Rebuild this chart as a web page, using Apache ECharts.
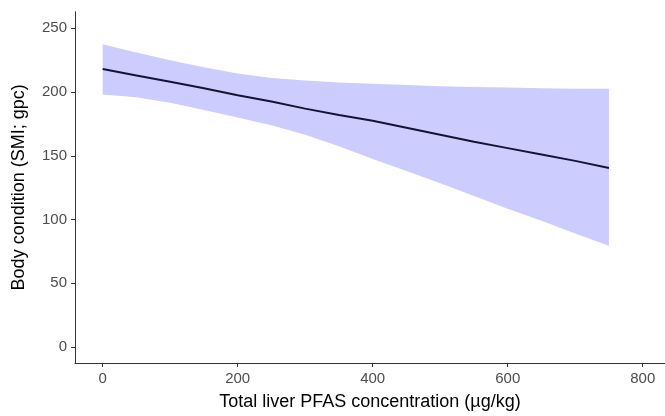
<!DOCTYPE html>
<html>
<head>
<meta charset="utf-8">
<script src="https://cdn.jsdelivr.net/npm/echarts@6/dist/echarts.min.js"></script>
<style>html,body{margin:0;padding:0;background:#fff}#c{width:665px;height:416px}</style>
</head>
<body>
<div id="c"></div>
<script>
const xValues = [0, 50, 100, 150, 200, 250, 300, 350, 400, 450, 500, 550, 600, 650, 700, 750];
const fitValues = [218, 213, 208, 203, 197.5, 192.5, 187, 182, 177.5, 172, 166.5, 161, 156, 151, 146, 140.5];
const upperValues = [237.5, 231, 225, 219.5, 214.5, 211, 209, 207.5, 206.5, 205.5, 204.5, 204, 203.5, 203, 202.5, 202.5];
const lowerValues = [198, 196, 191.5, 186, 180, 174, 166.5, 157.5, 147.5, 138, 128.5, 118.5, 108.5, 99, 89, 79.5];
const xTicks = [0, 200, 400, 600, 800];
const yTicks = [0, 50, 100, 150, 200, 250];
const xTitle = 'Total liver PFAS concentration (µg/kg)';
const yTitle = 'Body condition (SMI; gpc)';

const bandData = xValues.map((x, i) => [x, lowerValues[i], upperValues[i]]);
const fitData = xValues.map((x, i) => [x, fitValues[i]]);

const FONT = 'Liberation Sans, Arial, sans-serif';
const axisCommon = {
  axisLine: { show: true, onZero: false, lineStyle: { color: '#333', width: 1 } },
  axisTick: { show: true, length: 4, lineStyle: { color: '#333' } },
  axisLabel: { color: '#4d4d4d', fontSize: 15, fontFamily: FONT, margin: 8 },
  splitLine: { show: false },
  nameTextStyle: { color: '#000', fontSize: 18, fontFamily: FONT }
};

const chart = echarts.init(document.getElementById('c'));
chart.setOption({
  animation: false,
  backgroundColor: '#fff',
  grid: { left: 75, right: 0, top: 11.7, bottom: 51.7, containLabel: false },
  xAxis: {
    type: 'value', min: -41, max: 833,
    name: xTitle, nameLocation: 'middle', nameGap: 30,
    ...axisCommon,
    axisTick: { ...axisCommon.axisTick, customValues: xTicks },
    axisLabel: { ...axisCommon.axisLabel, customValues: xTicks, margin: 8 }
  },
  yAxis: {
    type: 'value', min: -12.5, max: 263,
    name: yTitle, nameLocation: 'middle', nameGap: 47,
    ...axisCommon,
    axisTick: { ...axisCommon.axisTick, customValues: yTicks },
    axisLabel: { ...axisCommon.axisLabel, customValues: yTicks, margin: 8 }
  },
  series: [
    {
      type: 'custom', silent: true, z: 2,
      data: bandData,
      encode: { x: 0, y: [1, 2] },
      renderItem: function (params, api) {
        if (params.dataIndex !== 0) return null;
        const top = bandData.map(d => api.coord([d[0], d[2]]));
        const bot = bandData.map(d => api.coord([d[0], d[1]])).reverse();
        return {
          type: 'polygon',
          shape: { points: top.concat(bot) },
          style: { fill: '#ccccff', stroke: null }
        };
      }
    },
    { type: 'line', data: fitData, symbol: 'none', lineStyle: { color: '#141432', width: 2 }, z: 5 }
  ]
});
</script>
</body>
</html>
